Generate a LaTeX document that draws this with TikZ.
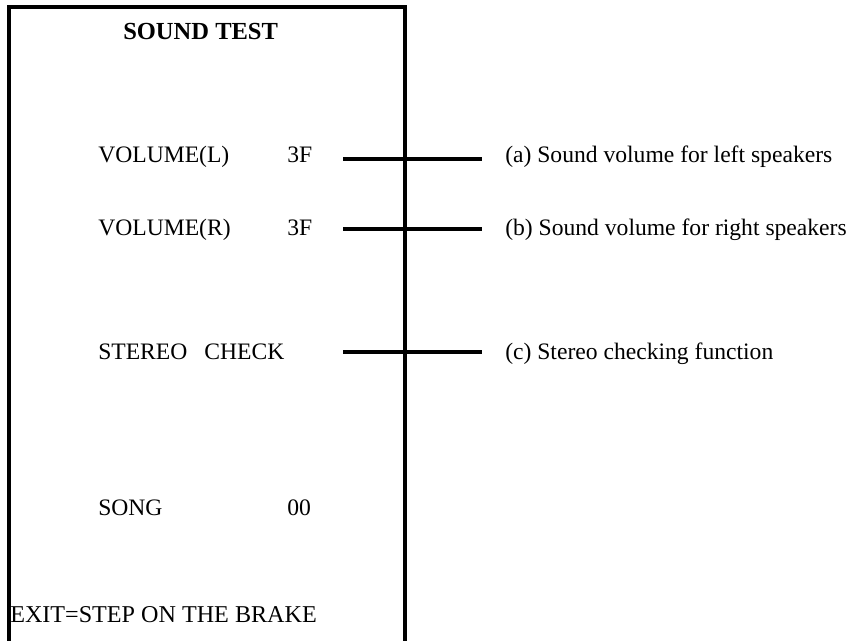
\documentclass[tikz,border=0pt]{standalone}
\usepackage{fontspec}
\setmainfont{Liberation Serif}
\begin{document}
\begin{tikzpicture}[x=0.75pt,y=-0.75pt,
  txt/.style={inner sep=0pt,anchor=base west,font=\fontsize{17.7}{20}\selectfont},
  frame/.style={line width=3pt},
  conn/.style={line width=2.4pt}]
\useasboundingbox (0,0) rectangle (854,641);
\draw[frame] (9,643) -- (9,7) -- (405,7) -- (405,643);
\node[txt,font=\fontsize{18.4}{20}\selectfont\bfseries] (title) at (123,40) {SOUND TEST};
\node[txt] (vl) at (98,163) {VOLUME(L)};
\node[txt] (vlv) at (287,163) {3F};
\node[txt] (vr) at (98,236) {VOLUME(R)};
\node[txt] (vrv) at (287,236) {3F};
\node[txt] (st) at (98,360) {STEREO\hspace{0.72em}CHECK};
\node[txt] (song) at (98,516) {SONG};
\node[txt] (songv) at (287,516) {00};
\node[txt,font=\fontsize{18.1}{20}\selectfont] (exit) at (10,623) {EXIT=STEP ON THE BRAKE};
\node[txt] (a) at (505,163) {(a) Sound volume for left speakers};
\node[txt] (b) at (505,236) {(b) Sound volume for right speakers};
\node[txt] (c) at (505,360) {(c) Stereo checking function};
\coordinate (a0) at (343,159); \coordinate (a1) at (482,159);
\coordinate (b0) at (343,229); \coordinate (b1) at (482,229);
\coordinate (c0) at (343,352); \coordinate (c1) at (482,352);
\draw[conn] (a0) -- (a1);
\draw[conn] (b0) -- (b1);
\draw[conn] (c0) -- (c1);
\end{tikzpicture}
\end{document}
